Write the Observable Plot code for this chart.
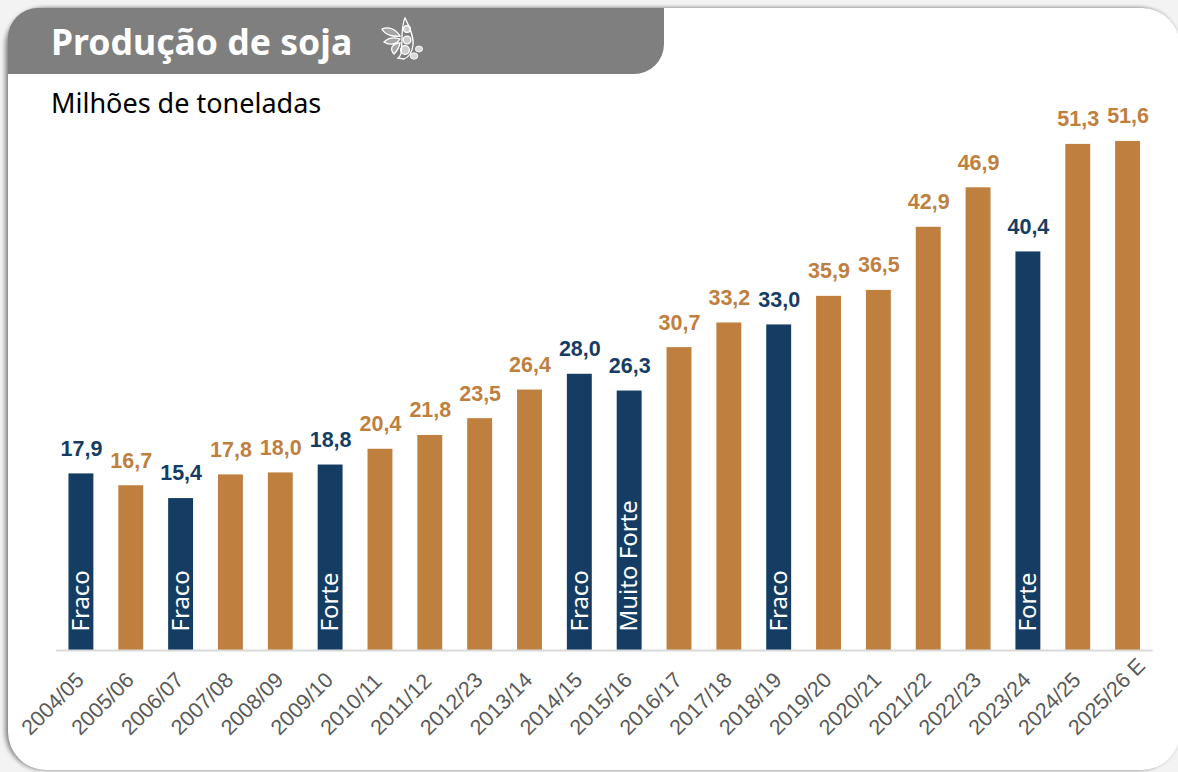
<!DOCTYPE html>
<html lang="pt">
<head>
<meta charset="utf-8">
<script src="https://cdn.jsdelivr.net/npm/d3@7"></script>
<script src="https://cdn.jsdelivr.net/npm/@observablehq/plot@0.6"></script>
<style>
html,body{margin:0;padding:0;width:1178px;height:772px;overflow:hidden;background:#f3f3f3}
#card{position:absolute;left:8px;top:8px;width:1172px;height:762px;background:#fff;border-radius:38px;box-shadow:-3px 0 4px rgba(0,0,0,.42),0 -1px 3px rgba(0,0,0,.12)}
#head{position:absolute;left:8px;top:8px;width:656px;height:66px;background:#7f7f7f;border-radius:30px 0 30px 0}
#title{position:absolute;left:43px;top:10px;font:700 35.6px/46px "Noto Sans",sans-serif;color:#fff;white-space:nowrap}
#icon{position:absolute;left:370px;top:8px}
#sub{position:absolute;left:51px;top:85px;font:400 27px/36px "Noto Sans",sans-serif;color:#000;white-space:nowrap}
#chart{position:absolute;left:0;top:120px}
#chart svg{display:block;background:transparent}
</style>
</head>
<body>
<div id="card"></div>
<div id="head">
  <div id="title">Produção de soja</div>
  <svg id="icon" width="46" height="50" viewBox="0 0 46 50" fill="none" stroke="#fff" stroke-width="1.3">
    <path d="M27 2c4 8 9 18 8 27-1 8-4 12-9 14l-6-1c5-4 3-10 4-18 0-8 0-16 3-22z"/>
    <circle cx="29" cy="13" r="3.4" fill="#fff" fill-opacity=".6"/>
    <circle cx="29" cy="24" r="3.8" fill="#fff" fill-opacity=".6"/>
    <circle cx="27" cy="34" r="4.4" fill="#fff" fill-opacity=".6"/>
    <path d="M4 13c6-3 14 0 18 7-7 1-15-1-18-7zM6 26c4-4 10-5 16-3-3 5-10 7-16 3zM14 31c2-3 5-4 8-4-1 5-3 8-6 11-2-2-3-4-2-7z" fill="#fff" fill-opacity=".3"/>
    <ellipse cx="41" cy="33" rx="3.6" ry="3" fill="#fff" fill-opacity=".7" stroke-width=".8"/>
    <ellipse cx="36" cy="40" rx="3.8" ry="3.2" fill="#fff" fill-opacity=".7" stroke-width=".8"/>
  </svg>
</div>
<div id="sub">Milhões de toneladas</div>
<div id="chart"></div>
<script>
const safras = ["2004/05","2005/06","2006/07","2007/08","2008/09","2009/10","2010/11","2011/12","2012/23","2013/14","2014/15","2015/16","2016/17","2017/18","2018/19","2019/20","2020/21","2021/22","2022/23","2023/24","2024/25","2025/26 E"];
const producao = [17.9,16.7,15.4,17.8,18.0,18.8,20.4,21.8,23.5,26.4,28.0,26.3,30.7,33.2,33.0,35.9,36.5,42.9,46.9,40.4,51.3,51.6];
const evento = ["Fraco","","Fraco","","","Forte","","","","","Fraco","Muito Forte","","","Fraco","","","","","Forte","",""];
const azul = "#153d64", cobre = "#bf803f";

const dados = safras.map((s,i)=>({safra:s,valor:producao[i],evento:evento[i]}));
const cor = d => d.evento ? azul : cobre;
const fmt = v => v.toFixed(1).replace(".",",");

const plot = Plot.plot({
  width:1178, height:652,
  marginLeft:56, marginRight:25.5, marginTop:17, marginBottom:122,
  style:{background:"transparent",overflow:"visible"},
  x:{domain:safras,paddingInner:0.5,paddingOuter:0.25,align:0.5,round:false,label:null},
  y:{domain:[0,52],axis:null},
  marks:[
    Plot.axisX({tickSize:0,tickPadding:0,dx:-56,dy:81,tickRotate:-45,textAnchor:"start",lineAnchor:"middle",fontSize:21.5,fill:"#595959",fontFamily:"Liberation Sans",label:null}),
    Plot.barY(dados,{x:"safra",y:"valor",fill:cor}),
    Plot.ruleY([0],{stroke:"#d9d9d9",strokeWidth:2}),
    Plot.text(dados,{x:"safra",y:"valor",text:d=>fmt(d.valor),fill:cor,dy:-25,fontSize:21.5,fontWeight:700,fontFamily:"Liberation Sans",stroke:"none"}),
    Plot.text(dados.filter(d=>d.evento),{x:"safra",y:0,text:"evento",rotate:-90,textAnchor:"start",dy:-19,fill:"#fff",fontSize:24,fontFamily:"Noto Sans",stroke:"none"})
  ]
});
document.getElementById("chart").appendChild(plot);
</script>
</body>
</html>
